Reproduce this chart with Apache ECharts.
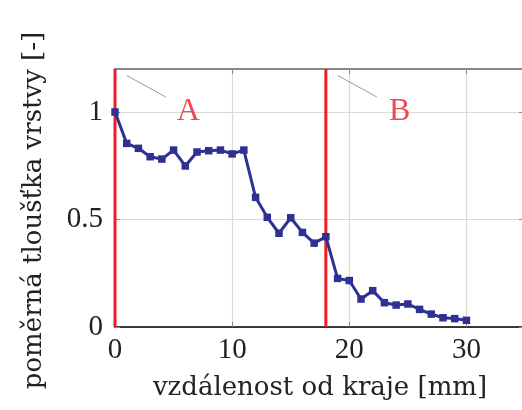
<!DOCTYPE html>
<html lang="cs">
<head>
    <meta charset="UTF-8">
    <title>Poměrná tloušťka vrstvy</title>
    <script src="https://cdn.jsdelivr.net/npm/echarts@6/dist/echarts.min.js"></script>
    <style>
        html, body { margin: 0; padding: 0; background: #fff; }
        #main { width: 522px; height: 410px; }
    </style>
</head>
<body>
<div id="main"></div>
<script type="text/javascript">
    // vzdálenost od kraje [mm]
    var distance = [0, 1, 2, 3, 4, 5, 6, 7, 8, 9, 10, 11, 12, 13, 14, 15,
        16, 17, 18, 19, 20, 21, 22, 23, 24, 25, 26, 27, 28, 29, 30];
    // poměrná tloušťka vrstvy [-]
    var thickness = [1.0, 0.854, 0.831, 0.792, 0.781, 0.823, 0.749, 0.814, 0.82, 0.823, 0.805,
        0.823, 0.603, 0.51, 0.436, 0.508, 0.44, 0.39, 0.42, 0.226, 0.216,
        0.13, 0.169, 0.113, 0.102, 0.107, 0.082, 0.06, 0.043, 0.039, 0.031];

    var xTicks = [0, 10, 20, 30];
    var yTicks = [0, 0.5, 1];

    // svislé čáry A a B
    var markNames = ['A', 'B'];
    var markX = [0, 18];
    var labelX = [6.25, 24.3];
    var labelY = [1.0, 1.0];
    var leaderStart = [[1, 1.17], [19, 1.17]];
    var leaderEnd = [[4.33, 1.07], [22.35, 1.07]];

    var numFont = '"Liberation Serif", serif';
    var titleFont = '"DejaVu Serif", serif';

    var seriesList = [];

    markX.forEach(function (x, i) {
        seriesList.push({
            type: 'line',
            data: [[x, 0], [x, 1.2]],
            symbol: 'none',
            z: 3,
            lineStyle: { color: '#ee1c25', width: 3 },
            silent: true
        });
        seriesList.push({
            type: 'line',
            xAxisIndex: 1,
            yAxisIndex: 1,
            data: [leaderStart[i], leaderEnd[i]],
            symbol: 'none',
            z: 3,
            lineStyle: { color: '#999', width: 1 },
            silent: true
        });
        seriesList.push({
            type: 'scatter',
            data: [[labelX[i], labelY[i]]],
            symbolSize: 0,
            z: 4,
            label: {
                show: true,
                position: 'inside',
                formatter: markNames[i],
                color: '#ee1c25',
                fontFamily: numFont,
                fontSize: 32
            },
            silent: true
        });
    });

    seriesList.push({
        name: 'tloušťka',
        type: 'line',
        data: distance.map(function (d, i) { return [d, thickness[i]]; }),
        symbol: 'rect',
        symbolSize: 7.5,
        z: 5,
        itemStyle: { color: '#2e3192' },
        lineStyle: { color: '#2e3192', width: 3 }
    });

    var chart = echarts.init(document.getElementById('main'));
    chart.setOption({
        animation: false,
        // pravý okraj grafu leží těsně za obrázkem
        grid: { left: 115, width: 410, top: 69, bottom: 83, outerBoundsMode: 'none' },
        xAxis: [{
            type: 'value',
            min: 0,
            max: 35,
            interval: 10,
            position: 'bottom',
            name: 'vzdálenost od kraje [mm]',
            nameLocation: 'middle',
            nameGap: 48,
            nameTextStyle: { fontFamily: titleFont, fontSize: 26, color: '#222' },
            axisLine: { onZero: false, lineStyle: { color: '#000', width: 1.5 } },
            axisTick: { inside: true, length: 5, lineStyle: { color: '#888' } },
            axisLabel: {
                fontFamily: numFont, fontSize: 29, color: '#222', margin: 9,
                formatter: function (v) { return xTicks.indexOf(v) >= 0 ? String(v) : ''; }
            },
            splitLine: { lineStyle: { color: '#dadada', width: 1.2 } }
        }, {
            type: 'value',
            min: 0,
            max: 35,
            interval: 10,
            position: 'top',
            axisLine: { show: true, onZero: false, lineStyle: { color: '#888', width: 2 } },
            axisTick: { inside: true, length: 5, lineStyle: { color: '#888' } },
            axisLabel: { show: false },
            splitLine: { show: false }
        }],
        yAxis: [{
            type: 'value',
            min: 0,
            max: 1.2,
            interval: 0.5,
            position: 'left',
            name: 'poměrná tloušťka vrstvy [-]',
            nameLocation: 'middle',
            nameGap: 68,
            nameTextStyle: { fontFamily: titleFont, fontSize: 26, color: '#222', padding: [0, 25, 0, 0] },
            axisLine: { show: true, onZero: false, lineStyle: { color: '#000', width: 1.5 } },
            axisTick: { inside: true, length: 5, lineStyle: { color: '#888' } },
            axisLabel: {
                fontFamily: numFont, fontSize: 29, color: '#222', margin: 12,
                formatter: function (v) { return yTicks.indexOf(v) >= 0 ? String(v) : ''; }
            },
            splitLine: { lineStyle: { color: '#dadada', width: 1.2 } }
        }, {
            type: 'value',
            min: 0,
            max: 1.2,
            interval: 0.5,
            position: 'right',
            axisLine: { show: true, onZero: false, lineStyle: { color: '#888', width: 2 } },
            axisTick: { inside: true, length: 6, lineStyle: { color: '#888' } },
            axisLabel: { show: false },
            splitLine: { show: false }
        }],
        series: seriesList
    });
</script>
</body>
</html>
